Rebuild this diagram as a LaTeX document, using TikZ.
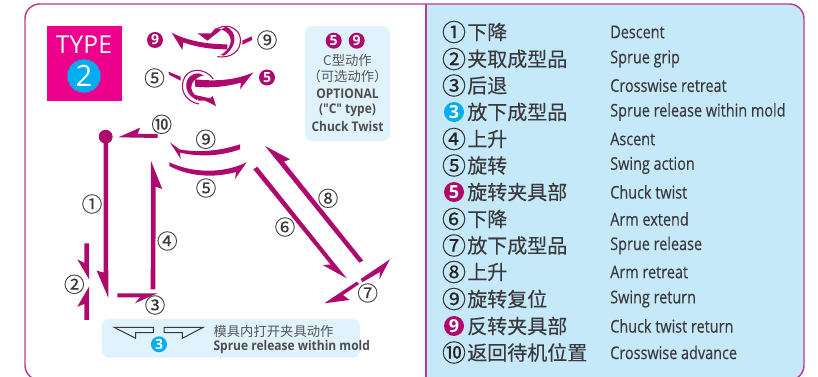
\documentclass[tikz,border=0pt]{standalone}
\usepackage{fontspec}
\setmainfont{Open Sans}
\newfontfamily\cjk{Noto Sans CJK SC}
\newfontfamily\cjkb[FakeBold=0.25]{Noto Sans CJK SC}
\newfontfamily\en[FakeStretch=0.82,FakeBold=0.3]{Open Sans}
\newfontfamily\ensb[FakeStretch=0.9]{Open Sans}
\definecolor{mag}{HTML}{AE0A6E}
\definecolor{frame}{HTML}{BC3C93}
\definecolor{pink}{HTML}{EC008C}
\definecolor{cyanc}{HTML}{00AEEF}
\definecolor{panel}{HTML}{C6E9FA}
\definecolor{pale}{HTML}{E0F3FC}
\definecolor{ink}{HTML}{3A3A3C}
\tikzset{
  x=0.75pt,y=-0.75pt,
  arrowshape/.style={fill=mag,draw=none},
  lab/.style={inner sep=0pt,text=ink,font=\cjkb\fontsize{15.5}{16}\selectfont},
  dotm/.style={circle,fill=mag,minimum size=12pt,inner sep=0pt,text=white,font=\bfseries\fontsize{10.5}{11}\selectfont},
  dotc/.style={dotm,fill=cyanc},
  dotml/.style={dotm,minimum size=15pt,font=\bfseries\fontsize{13.5}{13}\selectfont},
  dotcl/.style={dotml,fill=cyanc},
  zh/.style={anchor=west,inner sep=0pt,text=ink,font=\cjkb\fontsize{15}{15}\selectfont},
  num/.style={inner sep=0pt,text=black!85,font=\cjkb\fontsize{18}{18}\selectfont},
  eng/.style={anchor=west,inner sep=0pt,text=ink,font=\en\fontsize{13.2}{13}\selectfont},
  softbox/.style={fill=pale,draw=none,rounded corners=5.5pt},
  jaw/.style={draw=ink,line width=0.75pt,line join=miter},
  icon/.style={shift={#1},x=0.25pt,y=-0.25pt},
  boxsub/.style={inner sep=0pt,text=ink!85,font=\cjk\fontsize{10}{10}\selectfont},
  boxen/.style={inner sep=0pt,text=ink!90,font=\ensb\bfseries\fontsize{10}{10}\selectfont},
}
\begin{document}
\begin{tikzpicture}
\useasboundingbox (0,0) rectangle (818,377);
\clip (0,0) rectangle (818,377);
\fill[white] (0,0) rectangle (818,377);
% right panel and frame
\fill[panel,rounded corners=11pt] (412,4) rectangle (804,380);
\fill[white] (405,0) rectangle (426,378);
\draw[frame,line width=1.1pt,rounded corners=11pt] (25,4) rectangle (804,380);
\draw[frame,line width=1.1pt] (426,4) -- (426,378);
% type badge
\node[fill=pink,minimum width=56.25pt,minimum height=56.25pt,inner sep=0pt] (badge) at (84.2,63.4) {};
\node[text=white,inner sep=0pt,font=\fontsize{18.5}{19}\selectfont] (typetext) at (84,44.5) {TYPE};
\node[circle,fill=cyanc,minimum size=25pt,inner sep=0pt,text=white,font=\fontsize{22}{22}\selectfont] (typenum) at (84,76) {2};
% top swing icons
\node[dotm] (n9a) at (155,40) {9};
\node[lab] (n9b) at (267,40) {⑨};
\node[lab] (n5a) at (154.5,78) {⑤};
\node[dotm] (n5b) at (267,77.5) {5};
\begin{scope}[icon={(130,10)}]
  % upper ring
  \draw[mag,line width=0.8pt] (262,140) .. controls (300,146) and (335,125) .. (331,85) .. controls (327,55) and (290,35) .. (255,60);
  \fill[mag] (288,50) .. controls (318,62) and (328,105) .. (282,137) -- (272,135)
     .. controls (312,112) and (312,72) .. (274,58) -- cycle;
  \fill[arrowshape] (125,68) .. controls (170,92) and (230,103) .. (292,103) -- (292,118)
     .. controls (245,118) and (200,112) .. (160,97) -- (157,120) -- cycle;
  \fill[arrowshape] (337,92) -- (365,79) -- (367,90) -- (337,104) -- cycle;
  \fill[arrowshape] (203,70) -- (243,70) -- (256,55) -- (275,58) -- (258,72) -- (232,92) -- cycle;
  % lower ring
  \draw[mag,line width=0.8pt] (250,207) .. controls (230,178) and (185,170) .. (165,200) .. controls (145,235) and (165,275) .. (207,282);
  \fill[mag] (205,190) .. controls (165,190) and (150,245) .. (200,270) -- (205,262)
     .. controls (172,245) and (178,205) .. (222,196) -- cycle;
  \fill[arrowshape] (115,185) -- (152,200) -- (152,212) -- (118,195) -- cycle;
  \fill[arrowshape] (370,187) .. controls (320,210) and (260,215) .. (195,208) -- (195,230)
     .. controls (240,235) and (290,230) .. (333,218) -- (330,238) -- cycle;
  \fill[arrowshape] (195,255) -- (240,265) -- (248,258) -- (258,288) -- (225,272) -- (205,272) -- cycle;
\end{scope}
% C type box
\fill[softbox] (305,26) rectangle (390,141);
\node[dotm] (c5) at (333.7,40.7) {5};
\node[dotm] (c9) at (356.7,40.7) {9};
\node[boxsub] (c1) at (347.5,60) {C型动作};
\node[boxsub] (c2) at (347.5,76.7) {（可选动作）};
\node[boxen] (c3) at (347.5,93.5) {OPTIONAL};
\node[boxen] (c4) at (347.5,110.5) {("C" type)};
\node[boxen] (c5t) at (347.5,127) {Chuck Twist};
% sprue release box
\fill[softbox] (101.7,319) rectangle (360,357.7);
\draw[jaw] (114,327.3) -- (153.3,327.3) -- (153.3,332.7) -- (135.7,332.7) -- (135.7,338.3) -- cycle;
\draw[jaw] (164,327.3) -- (203.3,327.3) -- (182.3,338.3) -- (182.3,332.7) -- (164,332.7) -- cycle;
\node[dotc] (s3) at (159,344.3) {3};
\node[boxsub,anchor=west] (s1) at (213.3,331.7) {模具内打开夹具动作};
\node[boxen,anchor=west] (s2) at (213.3,346.7) {Sprue release within mold};
% motion path
\fill[mag] (105.7,136.7) circle (5.2pt);
\fill[arrowshape] (103.5,137) -- (108,137) -- (108.3,297.7) -- (96.7,270.7) -- (103.5,272.5) -- cycle;
\fill[arrowshape] (84.3,243.3) -- (89,243.3) -- (89,279.3) -- (77.3,259.3) -- (84.3,263) -- cycle;
\fill[arrowshape] (84.3,320) -- (89,320) -- (89,286.7) -- (77.3,306.7) -- (84.3,304) -- cycle;
\fill[arrowshape] (117.3,293.3) -- (157.3,293.3) -- (135,303.3) -- (140,297.3) -- (117.3,297.3) -- cycle;
\fill[arrowshape] (150.7,289.3) -- (155.3,289.3) -- (155.7,186.7) -- (162.3,189) -- (151,161) -- cycle;
\fill[arrowshape] (118.3,137.3) -- (140,127.7) -- (137.7,134) -- (157.7,134) -- (157.7,138) -- cycle;
\fill[arrowshape] (170,142.3) -- (179.3,149.3) .. controls (198,153) and (220,151) .. (240,144.3) -- (240,149.3)
   .. controls (220,156.5) and (198,157) .. (180,152.5) -- (180.7,159) -- cycle;
\fill[arrowshape] (169.3,162.3) .. controls (190,172) and (220,175) .. (246.7,162.3) -- (235,179) -- (236,172)
   .. controls (215,178) and (190,177) .. (169.3,166) -- cycle;
\fill[arrowshape] (257.3,166.7) -- (346.7,278.3) -- (322.7,265) -- (330.5,264.5) -- (253.3,169.3) -- cycle;
\fill[arrowshape] (265,146) -- (359.3,262.7) -- (363.3,260.7) -- (284,161.7) -- (290,159.3) -- cycle;
\fill[arrowshape] (390,259.3) -- (379.3,279.5) -- (380,272) -- (362.3,282.3) -- (360.7,279) -- cycle;
\fill[arrowshape] (324.3,303.3) -- (356.7,281.7) -- (359.3,284) -- (343,295) -- (349.5,300) -- cycle;
% path labels
\node[lab] (p1) at (92,204) {①};
\node[lab] (p2) at (74.3,284.3) {②};
\node[lab] (p3) at (155,305) {③};
\node[lab] (p4) at (167.3,241) {④};
\node[lab] (p5) at (206,188) {⑤};
\node[lab] (p6) at (285,227) {⑥};
\node[lab] (p7) at (367.7,293) {⑦};
\node[lab] (p8) at (328,198.3) {⑧};
\node[lab] (p9) at (205.7,139.3) {⑨};
\node[lab] (p10) at (161.7,124.3) {⑩};
% legend
\node[num] (k1) at (454,32) {①};
\node[zh] (l1) at (467,32) {下降};
\node[num] (k2) at (454,59) {②};
\node[zh] (l2) at (467,59) {夹取成型品};
\node[num] (k3) at (454,85.5) {③};
\node[zh] (l3) at (467,85.5) {后退};
\node[dotcl] (l4d) at (454,112) {3};
\node[zh] (l4) at (467,112) {放下成型品};
\node[num] (k5) at (454,139) {④};
\node[zh] (l5) at (467,139) {上升};
\node[num] (k6) at (454,165.5) {⑤};
\node[zh] (l6) at (467,165.5) {旋转};
\node[dotml] (l7d) at (454,192) {5};
\node[zh] (l7) at (467,192) {旋转夹具部};
\node[num] (k8) at (454,219) {⑥};
\node[zh] (l8) at (467,219) {下降};
\node[num] (k9) at (454,245.5) {⑦};
\node[zh] (l9) at (467,245.5) {放下成型品};
\node[num] (k10) at (454,272) {⑧};
\node[zh] (l10) at (467,272) {上升};
\node[num] (k11) at (454,299) {⑨};
\node[zh] (l11) at (467,299) {旋转复位};
\node[dotml] (l12d) at (454,326) {9};
\node[zh] (l12) at (467,326) {反转夹具部};
\node[num] (k13) at (454,352.5) {⑩};
\node[zh] (l13) at (467,352.5) {返回待机位置};
\node[eng] (e1) at (610,32) {Descent};
\node[eng] (e2) at (610,59) {Sprue grip};
\node[eng] (e3) at (610,85.5) {Crosswise retreat};
\node[eng] (e4) at (610,112) {Sprue release within mold};
\node[eng] (e5) at (610,139) {Ascent};
\node[eng] (e6) at (610,165.5) {Swing action};
\node[eng] (e7) at (610,192) {Chuck twist};
\node[eng] (e8) at (610,219) {Arm extend};
\node[eng] (e9) at (610,245.5) {Sprue release};
\node[eng] (e10) at (610,272) {Arm retreat};
\node[eng] (e11) at (610,299) {Swing return};
\node[eng] (e12) at (610,326) {Chuck twist return};
\node[eng] (e13) at (610,352.5) {Crosswise advance};
\end{tikzpicture}
\end{document}
